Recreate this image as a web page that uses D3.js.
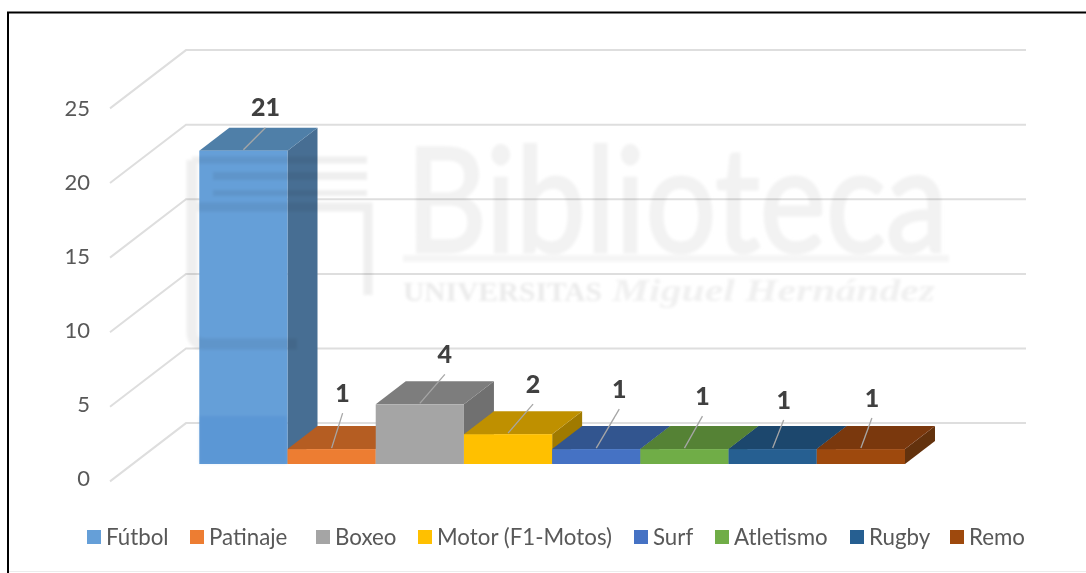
<!DOCTYPE html>
<html><head><meta charset="utf-8">
<script src="https://cdnjs.cloudflare.com/ajax/libs/d3/7.8.5/d3.min.js"></script>
<style>html,body{margin:0;padding:0;background:#fff}svg{display:block}</style>
</head><body><svg id="c" width="1086" height="573"></svg>
<script>
const categories = ["Fútbol","Patinaje","Boxeo","Motor (F1-Motos)","Surf","Atletismo","Rugby","Remo"];
const values = [21,1,4,2,1,1,1,1];
const tickValues = [0,5,10,15,20,25];
const frontColors = ["#659fd8","#ed7d31","#a5a5a5","#ffc000","#4472c4","#70ad47","#255e91","#9e480e"];
const topColors = ["#4f7fa8","#b55d22","#7d7d7d","#bf9000","#32548f","#548235","#1c466d","#7a380c"];
const sideColors = ["#476e93","#8f4a1b","#6f6f6f","#a07a00","#2a4678","#456c2c","#173a5a","#63300a"];
const leaderOffsets = [[22,-22],[11,-35],[25,-29],[25,-29],[23,-39],[18,-32],[11,-28],[11,-30]];
const legendX = [87,190,316,418,634,715,850,950];

const svg = d3.select("#c");
const defs = svg.append("defs");
defs.append("filter").attr("id","soft").attr("x","-5%").attr("y","-5%").attr("width","110%").attr("height","110%")
  .append("feGaussianBlur").attr("stdDeviation",0.7);
defs.append("filter").attr("id","wm").attr("x","-5%").attr("y","-5%").attr("width","110%").attr("height","110%")
  .append("feGaussianBlur").attr("stdDeviation",1.5);

// frame
const frame = svg.append("g");
frame.append("path").attr("d","M8,573V12.5H1086").attr("fill","none").attr("stroke","#000").attr("stroke-width",2);
frame.append("path").attr("d","M9,571.5H1086").attr("fill","none").attr("stroke","#ececec").attr("stroke-width",1);

const root = svg.append("g").attr("filter","url(#soft)");
const wallDx = 76, wallDy = -58.3, depthDx = 30, depthDy = -23;
const yWall = d3.scaleLinear().domain([0,25]).range([481.4,108.4]);
const yLabel = d3.scaleLinear().domain([0,25]).range([478.5,108.5]);
const yBar = d3.scaleLinear().domain([0,25]).range([464,464-373]);
const x = d3.scaleBand().domain(categories).range([199.3,905]).padding(0);
const wallLeft = 110, wallRight = 1026;

// gridlines
root.append("g").selectAll("path").data(tickValues).join("path")
  .attr("d",t=>`M${wallLeft},${yWall(t)}L${wallLeft+wallDx},${yWall(t)+wallDy}H${wallRight}`)
  .attr("fill","none").attr("stroke","#dedede").attr("stroke-width",2);

// axis labels
const axis = d3.axisLeft(yLabel).tickValues(tickValues).tickSize(0).tickPadding(0);
const ag = root.append("g").attr("transform","translate(90,0)").call(axis);
ag.select(".domain").remove();
ag.selectAll("text").attr("font-family","Lato, 'Open Sans', sans-serif").attr("font-size",22).attr("fill","#595959");

// bars
const w = x.bandwidth();
const bars = root.append("g").selectAll("g").data(categories).join("g");
bars.each(function(c,i){
  const g = d3.select(this), l = x(c), r = l+w, b = yBar(0), t = yBar(values[i]);
  g.append("path").attr("fill",sideColors[i])
   .attr("d",`M${r},${t}L${r+depthDx},${t+depthDy}V${b+depthDy}L${r},${b}Z`);
  g.append("path").attr("fill",topColors[i])
   .attr("d",`M${l},${t}L${l+depthDx},${t+depthDy}H${r+depthDx}L${r},${t}Z`);
  g.append("rect").attr("x",l).attr("y",t).attr("width",w).attr("height",b-t).attr("fill",frontColors[i]);
});

// leaders and value labels
const lab = root.append("g");
categories.forEach((c,i)=>{
  const cx = x(c)+w/2, ty = yBar(values[i]);
  const [dx,dy] = leaderOffsets[i];
  lab.append("line").attr("x1",cx).attr("y1",ty-1).attr("x2",cx+dx).attr("y2",ty-1+dy)
    .attr("stroke","#a6a6a6").attr("stroke-width",1.3);
  lab.append("text").attr("x",cx+dx).attr("y",ty-1+dy-20).attr("dy","0.35em")
    .attr("text-anchor","middle").attr("font-family","Lato, sans-serif").attr("font-weight",900)
    .attr("font-size",25).attr("fill","#404040").text(values[i]);
});

// legend
const leg = root.append("g").selectAll("g").data(categories).join("g")
  .attr("transform",(d,i)=>`translate(${legendX[i]},530)`);
leg.append("rect").attr("width",14).attr("height",14).attr("fill",(d,i)=>frontColors[i]);
leg.append("text").attr("x",19).attr("y",7).attr("dy","0.35em")
  .attr("font-family","Lato, sans-serif").attr("font-size",22.3).attr("fill","#595959").text(d=>d);

// watermark
const wm = svg.append("g").attr("filter","url(#wm)").style("mix-blend-mode","multiply");
const wmFill = "#efefef";
wm.append("text").attr("x",406).attr("y",252).attr("font-family","Lato, sans-serif").attr("font-size",146)
  .attr("textLength",542).attr("lengthAdjust","spacingAndGlyphs")
  .attr("fill","#f2f2f2").attr("stroke","#f2f2f2").attr("stroke-width",3).text("Biblioteca");
wm.append("rect").attr("x",403).attr("y",255).attr("width",546).attr("height",7).attr("fill","#f5f5f5");
wm.append("text").attr("x",403).attr("y",301).attr("font-family","'Liberation Serif', serif").attr("font-size",27).attr("font-weight",700)
  .attr("textLength",199).attr("lengthAdjust","spacingAndGlyphs").attr("fill","#ebebeb").text("UNIVERSITAS");
wm.append("text").attr("x",612).attr("y",301).attr("font-family","'Liberation Serif', serif").attr("font-style","italic").attr("font-weight",700).attr("font-size",31)
  .attr("textLength",323).attr("lengthAdjust","spacingAndGlyphs").attr("fill","#f0f0f0").text("Miguel Hernández");
// shield outline of the watermark logo
wm.append("path").attr("fill","none").attr("stroke",wmFill).attr("stroke-width",11)
  .attr("d","M192,160V332Q192,344 204,344H297");
wm.append("path").attr("fill","none").attr("stroke",wmFill).attr("stroke-width",9)
  .attr("d","M192,207H368V295");
wm.append("path").attr("fill","none").attr("stroke",wmFill).attr("stroke-width",7).attr("d","M192,160H367");
wm.append("path").attr("fill","none").attr("stroke",wmFill).attr("stroke-width",8).attr("d","M213,176H367");
wm.append("path").attr("fill","none").attr("stroke",wmFill).attr("stroke-width",6).attr("d","M213,193H367");
wm.append("rect").attr("x",199).attr("y",416).attr("width",88).attr("height",48).attr("fill","#e6f2fc");
</script></body></html>
